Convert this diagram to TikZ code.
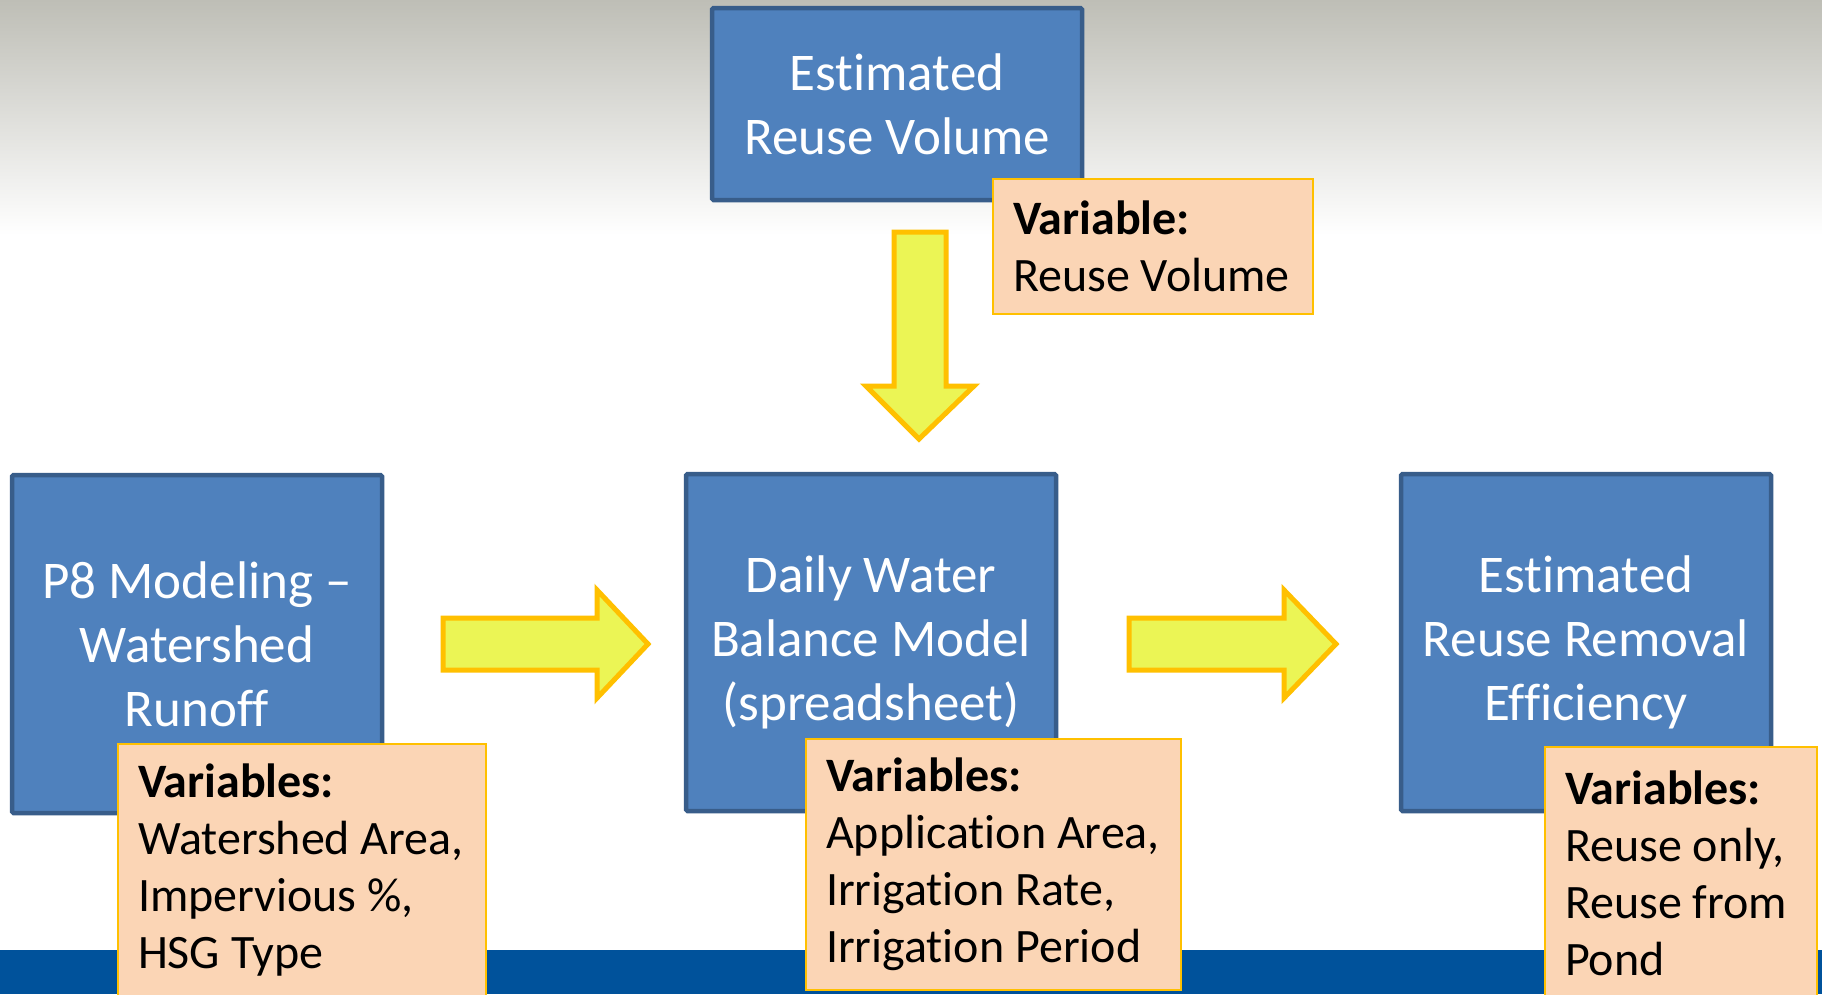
\documentclass[tikz,border=0pt]{standalone}
\usepackage{fontspec}
\setmainfont{Carlito}[Ligatures={NoCommon}]
\definecolor{boxblue}{RGB}{79,129,189}
\definecolor{boxedge}{RGB}{56,93,138}
\definecolor{peach}{RGB}{251,213,181}
\definecolor{gold}{RGB}{255,192,0}
\definecolor{arrowfill}{RGB}{235,245,85}
\definecolor{barblue}{RGB}{0,82,155}
\definecolor{topgray}{RGB}{190,190,182}
\tikzset{
  mainbox/.style={draw=boxedge, line width=4.5pt, fill=boxblue, rounded corners=1.5pt,
    minimum width=370pt, text=white, align=center,
    font=\fontsize{53}{64}\selectfont, inner sep=0pt},
  varbox/.style={draw=gold, line width=2.5pt, fill=peach, text=black, align=flush left,
    font=\fontsize{48}{57}\selectfont, inner xsep=20pt, inner ysep=0pt},
  blockarrow/.style={draw=gold, line width=5pt, fill=arrowfill, line join=miter}
}
\begin{document}
\begin{tikzpicture}[x=1pt,y=-1pt]
\useasboundingbox (0,0) rectangle (1822,994);
\fill[white] (0,0) rectangle (1822,994);
\shade[top color=topgray, bottom color=white] (0,0) rectangle (1822,235);
\fill[barblue] (0,950) rectangle (1822,994);

% main boxes
\node[mainbox, minimum height=192pt] (reuse) at (897,104) {Estimated\\Reuse Volume};
\node[mainbox, minimum height=338pt] (p8) at (197,644) {P8 Modeling --\\Watershed\\Runoff};
\node[mainbox, minimum height=337pt] (daily) at (871,642.5) {Daily Water\\Balance Model\\(spreadsheet)};
\node[mainbox, minimum height=337pt] (eff) at (1586,642.5) {Estimated\\Reuse Removal\\Efficiency};

% block arrows
\draw[blockarrow] (894,232) -- (946,232) -- (946,386) -- (974,386) -- (919,439)
  -- (866,386) -- (894,386) -- cycle;
\draw[blockarrow] (443,618) -- (597,618) -- (597,590) -- (648,644) -- (597,698)
  -- (597,670) -- (443,670) -- cycle;
\draw[blockarrow] (1129,618) -- (1284,618) -- (1284,590) -- (1336,644) -- (1284,698)
  -- (1284,670) -- (1129,670) -- cycle;

% variable boxes
\node[varbox, text width=280pt, minimum height=135pt] (vtop) at (1153,246.5)
  {\textbf{Variable:}\\Reuse Volume};
\node[varbox, text width=328pt, minimum height=252pt] (vp8) at (302,870)
  {\textbf{Variables:}\\Watershed Area,\\Impervious \%,\\HSG Type};
\node[varbox, text width=335pt, minimum height=251pt] (vdaily) at (993.5,864.5)
  {\textbf{Variables:}\\Application Area,\\Irrigation Rate,\\Irrigation Period};
\node[varbox, text width=232pt, minimum height=252pt] (veff) at (1681,873)
  {\textbf{Variables:}\\Reuse only,\\Reuse from\\Pond};
\end{tikzpicture}
\end{document}
